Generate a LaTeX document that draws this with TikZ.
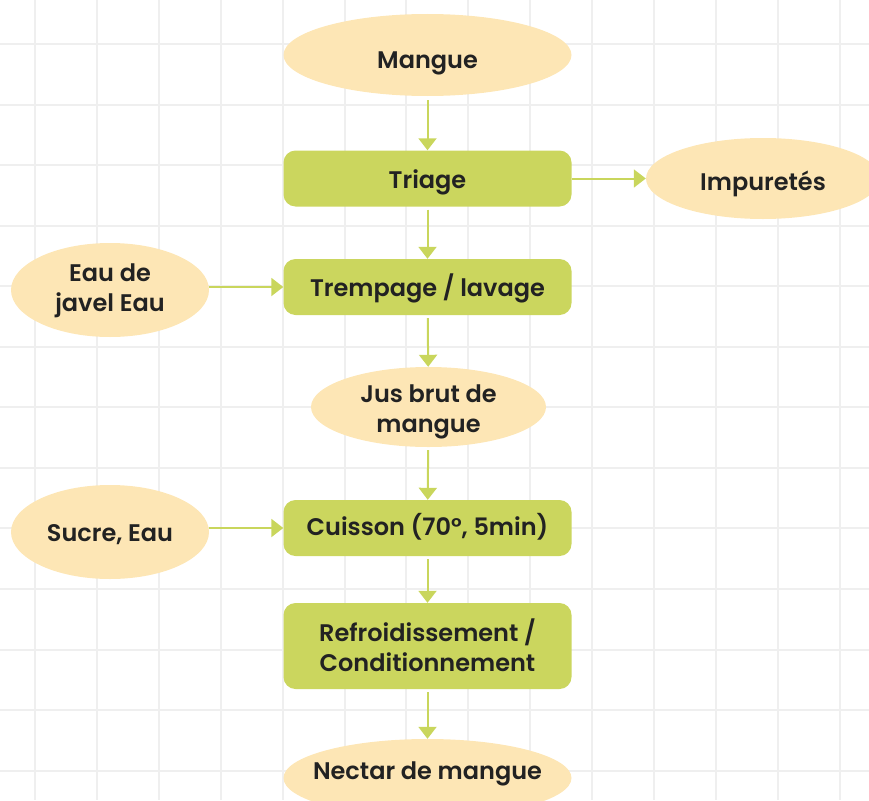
\documentclass[tikz,border=0pt]{standalone}
\usepackage{fontspec}
\setmainfont{Poppins SemiBold}
\usetikzlibrary{shapes.geometric,arrows.meta}

\definecolor{gridgray}{HTML}{EFEFEF}
\definecolor{stagegreen}{HTML}{CBD65E}
\definecolor{arrowgreen}{HTML}{C9D65C}
\definecolor{cream}{HTML}{FDE6B5}
\definecolor{ink}{HTML}{222222}

\tikzset{
  gridline/.style={draw=gridgray, line width=2pt},
  label/.style={text=ink, align=center, inner sep=0pt,
    font=\fontsize{24}{30}\selectfont},
  stage/.style={label, rectangle, rounded corners=12pt, fill=stagegreen,
    minimum width=288pt},
  food/.style={label, ellipse, fill=cream},
  % vertical placement of the text box inside its shape
  % (for two-line texts the box is measured from the last baseline)
  textbox/.style 2 args={text height=#1, text depth=#2},
  flow/.style={draw=arrowgreen, line width=2pt,
    -{Triangle[width=18pt,length=12pt]}},
}

\begin{document}
\begin{tikzpicture}[x=1pt, y=-1pt]
  \useasboundingbox (0,0) rectangle (869,800);
  \clip (0,0) rectangle (869,800);

  % background grid
  \foreach \i in {0,...,13}
    \draw[gridline] ({35+61.9*\i},0) -- ({35+61.9*\i},800);
  \foreach \j in {0,...,12}
    \draw[gridline] (0,{44+60.56*\j}) -- (869,{44+60.56*\j});

  % main line
  \node[food, minimum width=288pt, minimum height=82pt, textbox={26pt}{0pt}] (mangue) at (427.5,55) {Mangue};
  \node[stage, minimum height=56pt, textbox={20pt}{0pt}] (triage) at (427.5,178.5) {Triage};
  \node[stage, minimum height=56pt, textbox={19.5pt}{0pt}] (trempage) at (427.5,287) {Trempage / lavage};
  \node[food, minimum width=235pt, minimum height=80pt, textbox={51.4pt}{0pt}] (jus) at (428.5,407) {Jus brut de\\mangue};
  \node[stage, minimum height=56pt, textbox={15pt}{0pt}] (cuisson) at (427.5,528) {Cuisson (70°, 5min)};
  \node[stage, minimum height=86pt, textbox={51.4pt}{0pt}] (refroid) at (427.5,646) {Refroidissement /\\Conditionnement};
  \node[food, minimum width=288pt, minimum height=78pt, textbox={2pt}{0pt}, inner xsep=-50pt] (nectar) at (427.5,778) {Nectar de mangue};

  % side inputs and outputs
  \node[food, minimum width=234pt, minimum height=81pt, textbox={23pt}{0pt}] (impuretes) at (763,178.5) {Impuretés};
  \node[food, minimum width=198pt, minimum height=94pt, textbox={43.4pt}{0pt}] (javel) at (110,290) {Eau de\\javel Eau};
  \node[food, minimum width=198pt, minimum height=94pt, textbox={19.5pt}{0pt}] (sucre) at (110,532) {Sucre, Eau};

  % connectors
  \draw[flow, shorten <=4pt] (mangue) -- (triage);
  \draw[flow, shorten <=3pt] (triage) -- (trempage);
  \draw[flow, shorten <=3pt] (trempage) -- (jus);
  \draw[flow, shorten <=3pt] (jus) -- (cuisson);
  \draw[flow, shorten <=3pt] (cuisson) -- (refroid);
  \draw[flow, shorten <=3pt] (refroid) -- (nectar);
  \draw[flow] (triage.east) -- (impuretes.west);
  \draw[flow] (trempage.west -| javel.east) -- (trempage.west);
  \draw[flow] (cuisson.west -| sucre.east) -- (cuisson.west);
\end{tikzpicture}
\end{document}
